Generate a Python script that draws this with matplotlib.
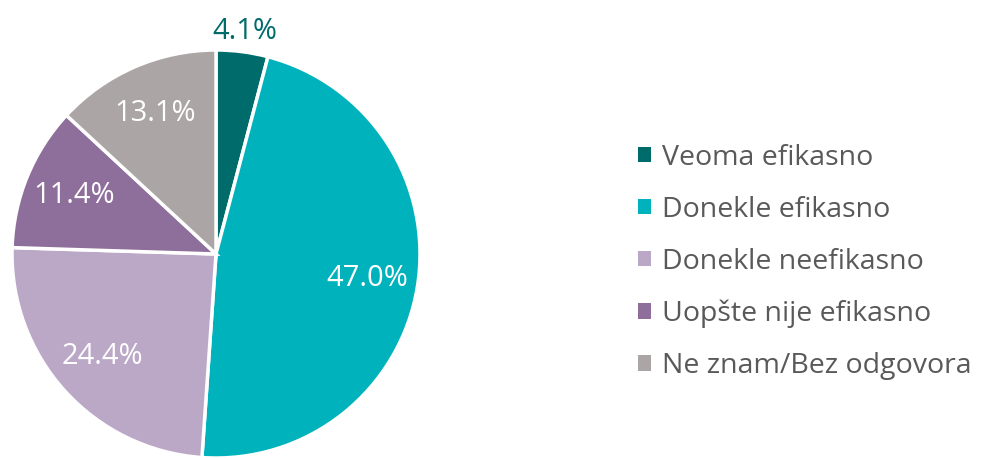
import math
import matplotlib.pyplot as plt
from matplotlib.patches import Patch

plt.rcParams['font.family'] = ['Open Sans', 'DejaVu Sans']

categories = ["Veoma efikasno", "Donekle efikasno", "Donekle neefikasno",
              "Uopšte nije efikasno", "Ne znam/Bez odgovora"]
values = [4.1, 47.0, 24.4, 11.4, 13.1]
colors = ["#006B6B", "#00B2BB", "#BBA8C7", "#8E6E9A", "#ABA6A5"]

fig = plt.figure(figsize=(9.82, 4.58), dpi=100)
# pie centre ~(216, 254) px, radius ~204 px
r = 204
ax = fig.add_axes([(216 - r) / 982, (458 - 254 - r) / 458, 2 * r / 982, 2 * r / 458])

wedges, texts, autotexts = ax.pie(
    values, colors=colors, startangle=90, counterclock=False,
    autopct='%1.1f%%', pctdistance=0.75,
    wedgeprops=dict(edgecolor='white', linewidth=2.5),
    textprops=dict(fontsize=21, color='white'))

# small slice label sits outside
ang = 90 - values[0] * 3.6 / 2
autotexts[0].set_position((1.1 * math.cos(math.radians(ang)), 1.1 * math.sin(math.radians(ang))))
autotexts[0].set_color(colors[0])

ax.set_xlim(-1, 1)
ax.set_ylim(-1, 1)
ax.set_aspect('equal')

handles = [Patch(facecolor=c, edgecolor='none') for c in colors]
fig.legend(handles, categories, loc='center left', bbox_to_anchor=(638 / 982, 1 - 262 / 458),
           frameon=False, fontsize=20.5, labelcolor='#595959', borderpad=0, borderaxespad=0,
           handlelength=0.45, handleheight=0.45, handletextpad=0.4, labelspacing=0.84)

fig.savefig('out.png', dpi=100)
